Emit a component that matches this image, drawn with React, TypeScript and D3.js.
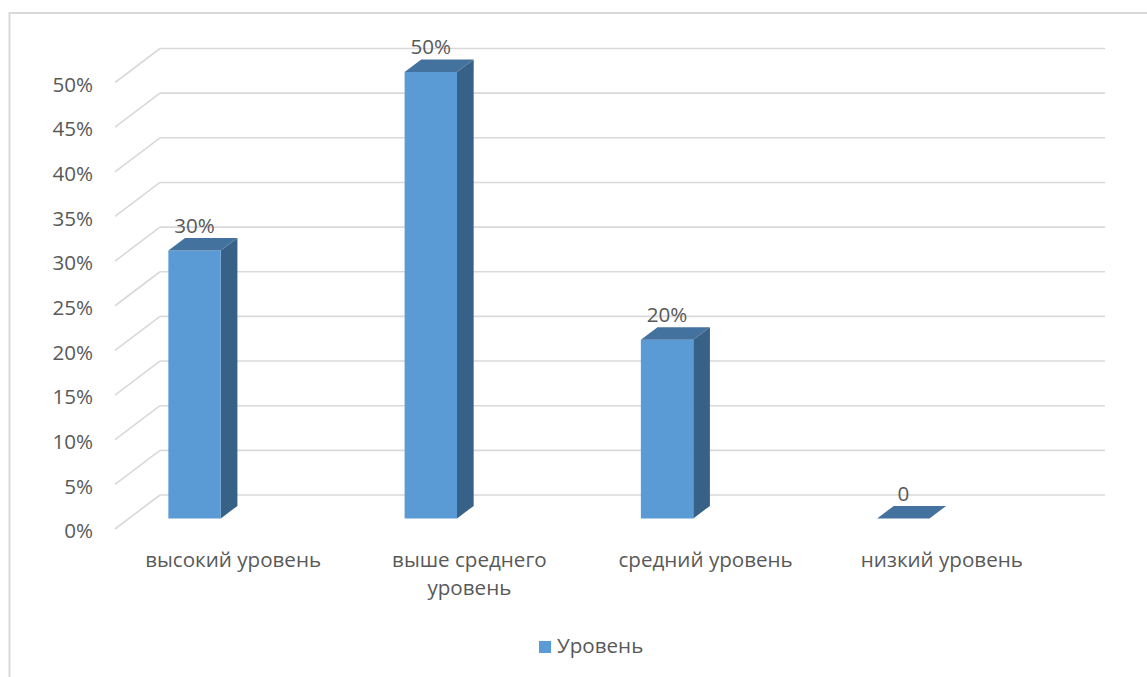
import React from "react";
import * as d3 from "d3";

// Chart data
const categories = ["высокий уровень", "выше среднего уровень", "средний уровень", "низкий уровень"];
const categoryLines = [["высокий уровень"], ["выше среднего", "уровень"], ["средний уровень"], ["низкий уровень"]];
const values = [30, 50, 20, 0];
const valueLabels = ["30%", "50%", "20%", "0"];
const yTicks = [0, 5, 10, 15, 20, 25, 30, 35, 40, 45, 50];
const seriesName = "Уровень";

const W = 1147;
const H = 677;
const FONT = "'Open Sans', 'Noto Sans', sans-serif";
const FS = 20.6;
const TEXT = "#595959";
const GRID = "#d9d9d9";
const FRONT = "#5b9bd5";
const TOP = "#44729e";
const SIDE = "#386188";

// oblique depth vector for the full floor depth
const DX = -45;
const DY = 34;
const Z_FRONT = 0.69;
const Z_BACK = 0.32;

export default function App() {
  const x = d3.scaleBand<string>().domain(categories).range([160, 1105]).paddingInner(0).paddingOuter(0);
  const y = d3.scaleLinear().domain([0, 50]).range([495, 48.5]);
  const P = (wx: number, v: number, z: number): [number, number] => [wx + DX * z, y(v) + DY * z];
  const pts = (arr: [number, number][]) => arr.map((p) => p.join(",")).join(" ");

  const bw = x.bandwidth();
  const barOffset = bw * 0.1668;
  const barWidth = bw * 0.2218;

  return (
    <svg width={W} height={H} style={{ position: "absolute", left: 0, top: 0, background: "#fff" }}>
      {/* outer frame */}
      <polyline points={`9.5,${H} 9.5,13 ${W},13`} fill="none" stroke={GRID} strokeWidth={2} />

      {/* gridlines: back wall + side wall diagonal */}
      {yTicks.map((t) => {
        const [bx, by] = P(160, t, 0);
        const [fx, fy] = P(160, t, 1);
        return (
          <g key={t}>
            <line x1={bx} y1={by} x2={1105} y2={by} stroke={GRID} strokeWidth={1.6} />
            <line x1={bx} y1={by} x2={fx} y2={fy} stroke={GRID} strokeWidth={1.6} />
            <text x={93} y={fy + 2} dy="0.35em" textAnchor="end" fontFamily={FONT} fontSize={FS} fill={TEXT}>
              {t}%
            </text>
          </g>
        );
      })}

      {/* bars */}
      {categories.map((c, i) => {
        const v = values[i];
        const wx0 = (x(c) as number) + barOffset;
        const wx1 = wx0 + barWidth;
        const front: [number, number][] = [P(wx0, v, Z_FRONT), P(wx1, v, Z_FRONT), P(wx1, 0, Z_FRONT), P(wx0, 0, Z_FRONT)];
        const top: [number, number][] = [P(wx0, v, Z_FRONT), P(wx1, v, Z_FRONT), P(wx1, v, Z_BACK), P(wx0, v, Z_BACK)];
        const side: [number, number][] = [P(wx1, v, Z_FRONT), P(wx1, v, Z_BACK), P(wx1, 0, Z_BACK), P(wx1, 0, Z_FRONT)];
        const [lx] = P((wx0 + wx1) / 2, v, Z_FRONT);
        const [, ly] = P(wx0, v, Z_BACK);
        return (
          <g key={c}>
            {v > 0 && <polygon points={pts(side)} fill={SIDE} />}
            {v > 0 && <polygon points={pts(front)} fill={FRONT} />}
            <polygon points={pts(top)} fill={TOP} />
            <text x={lx} y={ly - 5} textAnchor="middle" fontFamily={FONT} fontSize={FS} fill={TEXT}>
              {valueLabels[i]}
            </text>
          </g>
        );
      })}

      {/* category labels */}
      {categories.map((c, i) => {
        const [cx] = P((x(c) as number) + bw / 2, 0, 1);
        return (
          <text key={c} x={cx} y={567} textAnchor="middle" fontFamily={FONT} fontSize={FS} fill={TEXT}>
            {categoryLines[i].map((line, j) => (
              <tspan key={j} x={cx} dy={j === 0 ? 0 : 28}>
                {line}
              </tspan>
            ))}
          </text>
        );
      })}

      {/* legend */}
      <rect x={539} y={641} width={12} height={12} fill={FRONT} />
      <text x={557} y={653} fontFamily={FONT} fontSize={FS} fill={TEXT}>
        {seriesName}
      </text>
    </svg>
  );
}
